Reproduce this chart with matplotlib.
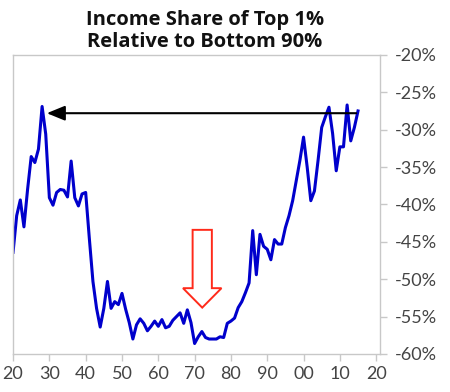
import matplotlib
matplotlib.use("Agg")
import matplotlib.pyplot as plt
from matplotlib.patches import FancyArrow

# données (part du top 1% relative aux 90% du bas, en %)
annees = list(range(1920, 2016))
valeurs = [
    -46.4, -41.5, -39.4, -43.0, -38.0, -33.6, -34.4, -32.6, -26.9, -30.6,
    -39.1, -40.1, -38.4, -38.0, -38.1, -39.0, -34.2, -39.1, -40.2, -38.6,
    -38.4, -44.5, -50.3, -53.9, -56.4, -53.9, -50.3, -53.9, -53.0, -53.4,
    -51.9, -54.0, -55.8, -58.0, -56.1, -55.3, -55.9, -56.9, -56.3, -55.6,
    -56.3, -55.4, -56.5, -56.3, -55.5, -55.0, -54.5, -55.9, -54.1, -55.8,
    -58.6, -57.7, -57.0, -57.8, -58.0, -58.0, -58.0, -57.7, -57.8, -55.9,
    -55.6, -55.2, -53.8, -53.0, -51.8, -50.5, -43.5, -49.4, -44.0, -45.6,
    -46.0, -47.4, -44.7, -45.3, -45.3, -43.1, -41.5, -39.5, -36.8, -34.1,
    -31.0, -35.0, -39.5, -38.2, -34.1, -29.7, -28.3, -27.0, -30.5, -35.5,
    -32.3, -32.3, -26.7, -31.5, -29.7, -27.5,
]

ticks_x = [1920, 1930, 1940, 1950, 1960, 1970, 1980, 1990, 2000, 2010, 2020]
labels_x = ["20", "30", "40", "50", "60", "70", "80", "90", "00", "10", "20"]
ticks_y = [-60, -55, -50, -45, -40, -35, -30, -25, -20]

# flèche noire (niveau de 1928 retrouvé récemment)
fleche_noire_debut = 2014.5
fleche_noire_fin = 1929.3
fleche_noire_niveau = -27.8

# flèche rouge (creux des années 70)
fleche_rouge_x = 1972.1
fleche_rouge_haut = -43.4
fleche_rouge_bas = -53.8

gris = "#c8c8c8"
texte = "#444444"

fig = plt.figure(figsize=(4.5, 3.92), dpi=100)
ax = fig.add_axes([0.029, 0.097, 0.815, 0.763])

ax.plot(annees, valeurs, color="#0000cc", linewidth=2.2, solid_joinstyle="round")

ax.annotate("", xy=(fleche_noire_fin, fleche_noire_niveau),
            xytext=(fleche_noire_debut, fleche_noire_niveau),
            arrowprops=dict(arrowstyle="-|>,head_length=1.1,head_width=0.45",
                            color="black", lw=1.5, shrinkA=0, shrinkB=0))

ax.add_patch(FancyArrow(fleche_rouge_x, fleche_rouge_haut, 0,
                        fleche_rouge_bas - fleche_rouge_haut,
                        width=5.3, head_width=10.6, head_length=2.6,
                        length_includes_head=True,
                        facecolor="white", edgecolor="#ff2a1a", linewidth=1.4))

ax.set_xlim(1920, 2021)
ax.set_ylim(-60, -20)
ax.set_xticks(ticks_x)
ax.set_xticklabels(labels_x)
ax.set_yticks(ticks_y)
ax.set_yticklabels([f"{v}%" for v in ticks_y])
ax.yaxis.tick_right()

for s in ax.spines.values():
    s.set_color(gris)
    s.set_linewidth(1.0)

ax.tick_params(axis="both", colors=gris, length=5, width=1.0,
               labelcolor=texte, labelsize=13)
ax.tick_params(axis="x", pad=4)
ax.tick_params(axis="y", pad=6)
for lab in ax.get_xticklabels() + ax.get_yticklabels():
    lab.set_family("Lato")

fig.text(0.455, 0.975, "Income Share of Top 1%\nRelative to Bottom 90%",
         ha="center", va="top", fontsize=14.5, fontweight="bold",
         family="Open Sans", color="#111111", linespacing=1.15)

fig.savefig("out.png", dpi=100)
